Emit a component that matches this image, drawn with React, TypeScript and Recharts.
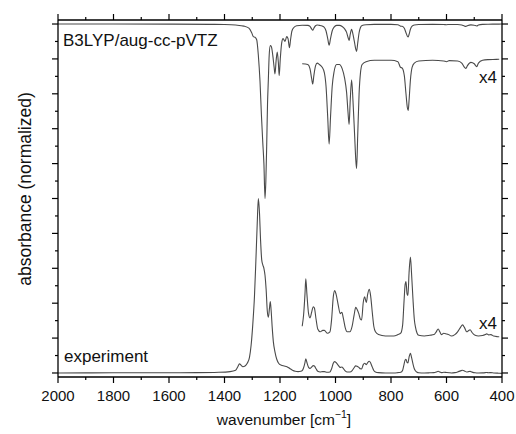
import React from 'react';
import { LineChart, Line, XAxis, YAxis, Customized } from 'recharts';

// Calculated spectrum (B3LYP/aug-cc-pVTZ): wavenumber [cm-1] and absorbance (in y-tick units)
const theoryWn = [2000, 1800, 1600, 1450, 1400, 1360, 1330, 1312, 1302, 1296, 1290, 1284, 1278, 1272, 1267, 1262, 1258, 1254, 1251, 1248, 1245, 1242, 1239, 1235, 1231, 1226, 1221, 1218, 1214, 1210, 1206, 1203, 1199, 1194, 1189, 1182, 1176, 1171, 1166, 1162, 1157, 1150, 1140, 1120, 1100, 1092, 1086, 1082, 1078, 1072, 1066, 1058, 1048, 1040, 1034, 1028, 1023, 1018, 1012, 1005, 996, 986, 976, 967, 960, 955, 951, 947, 942, 937, 931, 927, 924, 920, 915, 910, 904, 890, 860, 800, 775, 766, 760, 752, 746, 741, 738, 735, 730, 724, 716, 700, 650, 610, 600, 590, 560, 545, 535, 530, 525, 512, 500, 491, 485, 470, 450, 420, 410, 400];
const theoryAbs = [0, 0, 0.003, 0.01, 0.015, 0.03, 0.06, 0.12, 0.25, 0.36, 0.38, 0.45, 0.9, 1.65, 2.6, 3.4, 4.0, 5.0, 4.5, 3.5, 2.3, 1.6, 0.9, 0.62, 0.65, 0.9, 1.25, 1.43, 1.05, 0.8, 1.1, 1.48, 1.0, 0.55, 0.42, 0.5, 0.36, 0.42, 0.68, 0.45, 0.2, 0.1, 0.05, 0.035, 0.04, 0.07, 0.14, 0.18, 0.12, 0.05, 0.03, 0.04, 0.06, 0.1, 0.2, 0.42, 0.61, 0.42, 0.2, 0.09, 0.04, 0.04, 0.07, 0.14, 0.24, 0.38, 0.47, 0.3, 0.15, 0.3, 0.55, 0.72, 0.785, 0.55, 0.25, 0.1, 0.04, 0.02, 0.01, 0.01, 0.02, 0.06, 0.065, 0.12, 0.25, 0.35, 0.37, 0.3, 0.15, 0.06, 0.03, 0.015, 0.01, 0.015, 0.02, 0.012, 0.015, 0.03, 0.06, 0.068, 0.05, 0.025, 0.035, 0.055, 0.03, 0.01, 0.005, 0.003, 0.002, 0];

// Experimental spectrum
const expWn = [2000, 1900, 1800, 1700, 1600, 1500, 1420, 1380, 1360, 1352, 1346, 1340, 1334, 1326, 1318, 1310, 1304, 1298, 1292, 1287, 1282, 1278, 1274, 1270, 1266, 1262, 1258, 1254, 1250, 1246, 1242, 1238, 1235, 1232, 1228, 1224, 1218, 1212, 1205, 1195, 1185, 1175, 1165, 1155, 1145, 1135, 1125, 1120, 1115, 1110, 1107, 1103, 1097, 1092, 1086, 1080, 1076, 1070, 1064, 1055, 1046, 1040, 1030, 1020, 1014, 1008, 1003, 998, 990, 983, 977, 972, 965, 958, 948, 940, 933, 927, 922, 916, 910, 906, 900, 895, 889, 884, 878, 873, 867, 862, 856, 845, 820, 790, 775, 765, 758, 753, 749, 746, 742, 739, 735, 730, 726, 721, 716, 712, 706, 700, 680, 660, 645, 637, 630, 624, 618, 610, 600, 590, 583, 570, 560, 550, 542, 535, 527, 520, 515, 508, 497, 485, 470, 460, 455, 448, 440, 430, 415, 410, 400];
const expAbs = [0, 0.003, 0.005, 0.005, 0.008, 0.01, 0.02, 0.04, 0.08, 0.18, 0.26, 0.22, 0.18, 0.2, 0.28, 0.45, 0.8, 1.4, 2.2, 3.2, 4.3, 5.0, 4.6, 3.8, 3.25, 3.1, 3.0, 2.8, 2.4, 1.8, 1.6, 1.85, 2.05, 1.8, 1.3, 0.9, 0.6, 0.4, 0.28, 0.22, 0.2, 0.18, 0.13, 0.08, 0.05, 0.04, 0.05, 0.07, 0.15, 0.3, 0.41, 0.3, 0.16, 0.13, 0.17, 0.21, 0.2, 0.12, 0.05, 0.03, 0.04, 0.04, 0.02, 0.03, 0.12, 0.28, 0.325, 0.3, 0.22, 0.16, 0.17, 0.13, 0.06, 0.03, 0.03, 0.07, 0.15, 0.205, 0.19, 0.16, 0.12, 0.115, 0.24, 0.28, 0.24, 0.3, 0.335, 0.28, 0.16, 0.07, 0.03, 0.01, 0, 0, 0.01, 0.02, 0.08, 0.25, 0.37, 0.39, 0.3, 0.29, 0.45, 0.565, 0.45, 0.27, 0.12, 0.065, 0.02, 0.005, 0, 0.005, 0.01, 0.03, 0.05, 0.03, 0.01, 0.02, 0.015, 0.008, 0, 0.01, 0.03, 0.06, 0.08, 0.06, 0.03, 0.04, 0.045, 0.025, 0.005, 0, 0.003, 0.01, 0.015, 0.008, 0.01, 0, -0.005, -0.006, -0.01];

const xTicks = [2000, 1900, 1800, 1700, 1600, 1500, 1400, 1300, 1200, 1100, 1000, 900, 800, 700, 600, 500, 400];
const xLabelStep = 200;
const yTicks = [0, 0.5, 1, 1.5, 2, 2.5, 3, 3.5, 4, 4.5, 5, 5.5, 6, 6.5, 7, 7.5, 8, 8.5, 9, 9.5, 10];

const theoryBaseline = 10;
const theoryZoomBaseline = 9;
const expBaseline = 0;
const expZoomBaseline = 1.06;
const zoomFactor = 4;
const zoomStart = 1120;
const zoomEnd = 410;

const theoryData = theoryWn.map((wn, i) => ({ wn, y: theoryBaseline - theoryAbs[i] }));
const theoryZoomData = theoryWn
  .map((wn, i) => ({ wn, y: theoryZoomBaseline - zoomFactor * theoryAbs[i] }))
  .filter((d) => d.wn <= zoomStart && d.wn >= zoomEnd);
const expData = expWn.map((wn, i) => ({ wn, y: expBaseline + expAbs[i] }));
const expZoomData = expWn
  .map((wn, i) => ({ wn, y: expZoomBaseline + zoomFactor * expAbs[i] }))
  .filter((d) => d.wn <= zoomStart && d.wn >= zoomEnd);

const FONT = '"Liberation Sans", Arial, Helvetica, sans-serif';
const LINE_COLOR = '#4a4a4a';
const X_DOMAIN = [400, 2000];
const Y_DOMAIN = [-0.115, 10.115];
const MAJOR = 6;
const MINOR = 3;

const makeXTick = (side: 'top' | 'bottom') => (props: any) => {
  const { x, y, payload } = props;
  const major = payload.value % xLabelStep === 0;
  const len = major ? MAJOR : MINOR;
  const dir = side === 'bottom' ? 1 : -1;
  return (
    <g>
      <line x1={x} x2={x} y1={y} y2={y + dir * len} stroke="#000" strokeWidth={1.2} />
      {side === 'bottom' && major ? (
        <text x={x} y={y + 13 + 11} textAnchor="middle" fontSize={15} fontFamily={FONT} fill="#111">
          {payload.value}
        </text>
      ) : null}
    </g>
  );
};

const makeYTick = (side: 'left' | 'right') => (props: any) => {
  const { x, y, payload } = props;
  const major = Number.isInteger(payload.value);
  const len = major ? MAJOR : MINOR;
  const dir = side === 'left' ? -1 : 1;
  return <line x1={x} x2={x + dir * len} y1={y} y2={y} stroke="#000" strokeWidth={1.2} />;
};

const BottomTick = makeXTick('bottom');
const TopTick = makeXTick('top');
const LeftTick = makeYTick('left');
const RightTick = makeYTick('right');

const Annotations = () => (
  <g fontFamily={FONT} fill="#111">
    <text x={63} y={46} fontSize={17}>B3LYP/aug-cc-pVTZ</text>
    <text x={64} y={362} fontSize={17}>experiment</text>
    <text x={497} y={83} fontSize={17} textAnchor="end">x4</text>
    <text x={497} y={329} fontSize={17} textAnchor="end">x4</text>
    <text x={284} y={425} fontSize={15.5} textAnchor="middle">
      wavenumber [cm<tspan dy={-7} fontSize={10.5}>−1</tspan><tspan dy={7}>]</tspan>
    </text>
    <text x={25} y={189} fontSize={17.5} textAnchor="middle" dominantBaseline="central" transform="rotate(-90 25 189)">
      absorbance (normalized)
    </text>
  </g>
);

const axisLine = { stroke: '#000', strokeWidth: 1.3 };

export default function App() {
  return (
    <div style={{ position: 'absolute', left: 0, top: 0, width: 516, height: 434, background: '#fff' }}>
      <LineChart width={516} height={434} margin={{ top: 19, right: 13, bottom: 56, left: 57 }}>
        <XAxis xAxisId="b" orientation="bottom" type="number" dataKey="wn" domain={X_DOMAIN} reversed allowDataOverflow
          ticks={xTicks} interval={0} height={1} tickSize={0} tickMargin={0} tickLine={false}
          tick={BottomTick} axisLine={axisLine} />
        <XAxis xAxisId="t" orientation="top" type="number" dataKey="wn" domain={X_DOMAIN} reversed allowDataOverflow
          ticks={xTicks} interval={0} height={1} tickSize={0} tickMargin={0} tickLine={false}
          tick={TopTick} axisLine={axisLine} />
        <YAxis yAxisId="l" orientation="left" type="number" domain={Y_DOMAIN} allowDataOverflow
          ticks={yTicks} interval={0} width={1} tickSize={0} tickMargin={0} tickLine={false}
          tick={LeftTick} axisLine={axisLine} />
        <YAxis yAxisId="r" orientation="right" type="number" domain={Y_DOMAIN} allowDataOverflow
          ticks={yTicks} interval={0} width={1} tickSize={0} tickMargin={0} tickLine={false}
          tick={RightTick} axisLine={axisLine} />
        <Line xAxisId="b" yAxisId="l" data={theoryData} dataKey="y" type="monotone" stroke={LINE_COLOR} strokeWidth={1.1} dot={false} isAnimationActive={false} />
        <Line xAxisId="b" yAxisId="l" data={theoryZoomData} dataKey="y" type="monotone" stroke={LINE_COLOR} strokeWidth={1.1} dot={false} isAnimationActive={false} />
        <Line xAxisId="b" yAxisId="l" data={expData} dataKey="y" type="monotone" stroke={LINE_COLOR} strokeWidth={1.1} dot={false} isAnimationActive={false} />
        <Line xAxisId="b" yAxisId="l" data={expZoomData} dataKey="y" type="monotone" stroke={LINE_COLOR} strokeWidth={1.1} dot={false} isAnimationActive={false} />
        <Customized component={Annotations} />
      </LineChart>
    </div>
  );
}
